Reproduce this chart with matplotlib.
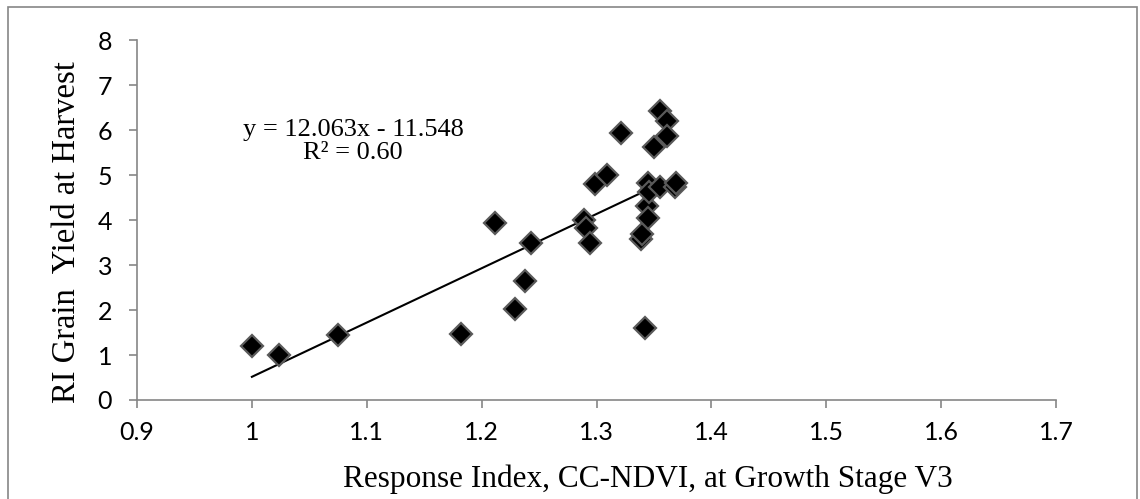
import numpy as np
import matplotlib
matplotlib.use("Agg")
import matplotlib.pyplot as plt
from matplotlib.patches import Rectangle

# response index CC-NDVI at V3 vs RI grain yield
ri_ndvi = [1.000, 1.024, 1.075, 1.182, 1.212, 1.229, 1.238, 1.243,
           1.289, 1.291, 1.294, 1.299, 1.309, 1.321, 1.339, 1.340,
           1.342, 1.344, 1.345, 1.345, 1.346, 1.350, 1.355, 1.355,
           1.361, 1.361, 1.368, 1.369]
ri_yield = [1.21, 1.00, 1.44, 1.46, 3.94, 2.02, 2.65, 3.48,
            4.00, 3.82, 3.50, 4.80, 5.00, 5.93, 3.57, 3.70,
            1.61, 4.32, 4.05, 4.83, 4.63, 5.62, 6.43, 4.74,
            6.20, 5.87, 4.74, 4.83]

slope, intercept = 12.063, -11.548
r2 = 0.60
trend_x = [1.0, 1.345]

xticks = [0.9, 1.0, 1.1, 1.2, 1.3, 1.4, 1.5, 1.6, 1.7]
xticklabels = ["0.9", "1", "1.1", "1.2", "1.3", "1.4", "1.5", "1.6", "1.7"]
yticks = [0, 1, 2, 3, 4, 5, 6, 7, 8]

axis_grey = "#868686"

fig = plt.figure(figsize=(11.4, 4.99), dpi=100)
ax = fig.add_axes([0.1202, 0.1984, 0.8061, 0.7214])

# chart frame (Excel chart area border)
fig.patches.append(Rectangle((8 / 1140, -0.05), 1129 / 1140, 1.05 - 7 / 499,
                             transform=fig.transFigure, fill=False,
                             edgecolor=axis_grey, linewidth=1.2))

tx = np.array(trend_x)
ax.plot(tx, slope * tx + intercept, color="black", linewidth=1.5, zorder=2)
ax.plot(ri_ndvi, ri_yield, linestyle="none", marker="D", markersize=11,
        markerfacecolor="black", markeredgecolor="#5a5a5a",
        markeredgewidth=1.6, zorder=3)

ax.set_xlim(0.9, 1.7)
ax.set_ylim(0, 8)
ax.set_xticks(xticks)
ax.set_xticklabels(xticklabels)
ax.set_yticks(yticks)

for s in ["top", "right"]:
    ax.spines[s].set_visible(False)
for s in ["left", "bottom"]:
    ax.spines[s].set_color(axis_grey)
    ax.spines[s].set_linewidth(1.2)
ax.tick_params(axis="both", direction="out", length=6, width=1.2,
               color=axis_grey, labelsize=18, pad=9)
ax.tick_params(axis="y", pad=12)
for lab in ax.get_xticklabels() + ax.get_yticklabels():
    lab.set_fontfamily("Lato")

serif = "Liberation Serif"
fig.text(648 / 1140, 1 - 479 / 499,
         "Response Index, CC-NDVI, at Growth Stage V3",
         fontfamily=serif, fontsize=22.5, ha="center", va="center")
fig.text(67 / 1140, 1 - 232 / 499, "RI Grain  Yield at Harvest",
         fontfamily=serif, fontsize=23.5, ha="center", va="center",
         rotation=90)

ax.text(1.088, 5.75, f"y = {slope:.3f}x - {-intercept:.3f}\nR\u00b2 = {r2:.2f}",
        fontfamily=serif, fontsize=19, ha="center", va="center",
        linespacing=1.05)

fig.savefig("out.png", dpi=100)
